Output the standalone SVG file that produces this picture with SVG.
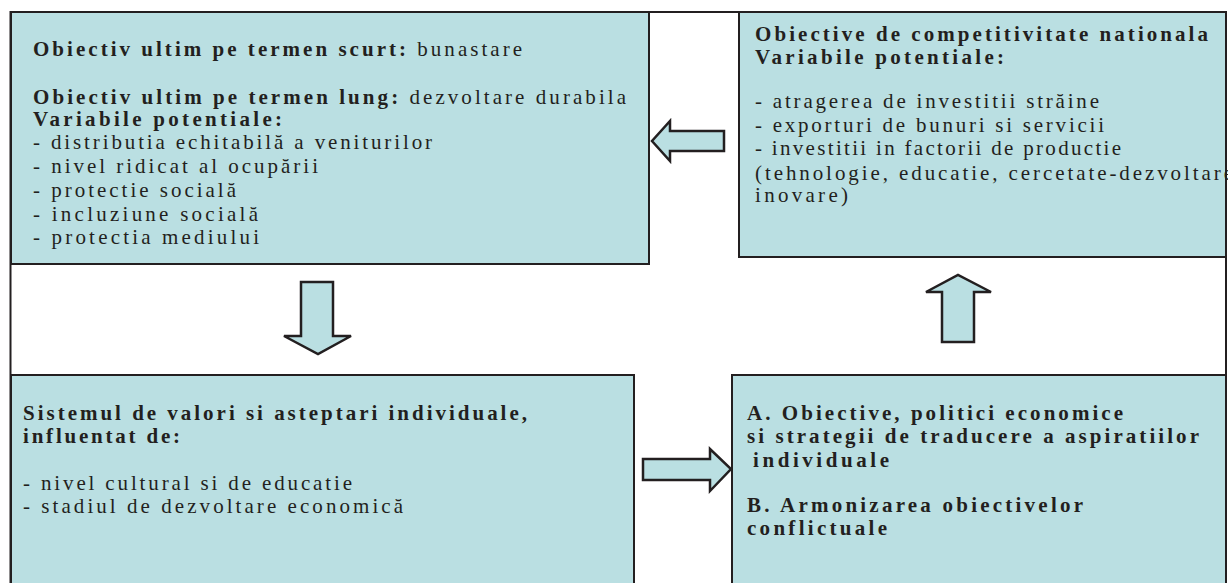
<svg xmlns="http://www.w3.org/2000/svg" width="1228" height="583" viewBox="0 0 1228 583">
<style>
.box{fill:#badfe2;stroke:#231f20;stroke-width:2}
.arr{fill:#badfe2;stroke:#231f20;stroke-width:2.5;stroke-linejoin:miter}
.frame{fill:none;stroke:#231f20;stroke-width:2}
text{font-family:"Liberation Serif","Times New Roman",serif;font-size:21px;fill:#231f20}
.b{font-weight:bold}
</style>
<rect x="0" y="0" width="1228" height="583" fill="#ffffff"/>
<g id="node-tl">
<rect class="box" x="11" y="12" width="638" height="252"/>
<text x="33" y="56" textLength="489" lengthAdjust="spacing"><tspan class="b">Obiectiv ultim pe termen scurt:</tspan> bunastare</text>
<text x="33" y="104" textLength="593" lengthAdjust="spacing"><tspan class="b">Obiectiv ultim pe termen lung:</tspan> dezvoltare durabila</text>
<text class="b" x="33" y="126" textLength="249" lengthAdjust="spacing">Variabile potentiale:</text>
<text x="33" y="149" textLength="399" lengthAdjust="spacing">- distributia echitabilă a veniturilor</text>
<text x="33" y="173" textLength="285" lengthAdjust="spacing">- nivel ridicat al ocupării</text>
<text x="33" y="197" textLength="203" lengthAdjust="spacing">- protectie socială</text>
<text x="33" y="221" textLength="225" lengthAdjust="spacing">- incluziune socială</text>
<text x="33" y="244" textLength="226" lengthAdjust="spacing">- protectia mediului</text>
</g>
<g id="node-tr">
<rect class="box" x="739" y="12" width="487" height="245"/>
<text class="b" x="755" y="41" textLength="453" lengthAdjust="spacing">Obiective de competitivitate nationala</text>
<text class="b" x="755" y="64" textLength="249" lengthAdjust="spacing">Variabile potentiale:</text>
<text x="755" y="108" textLength="344" lengthAdjust="spacing">- atragerea de investitii străine</text>
<text x="755" y="132" textLength="349" lengthAdjust="spacing">- exporturi de bunuri si servicii</text>
<text x="755" y="155" textLength="366" lengthAdjust="spacing">- investitii in factorii de productie</text>
<text x="755" y="180" textLength="478" lengthAdjust="spacing">(tehnologie, educatie, cercetate-dezvoltare</text>
<text x="755" y="202" textLength="93" lengthAdjust="spacing">inovare)</text>
</g>
<g id="node-bl">
<rect class="box" x="11" y="375" width="623" height="220"/>
<text class="b" x="23" y="420" textLength="504" lengthAdjust="spacing">Sistemul de valori si asteptari individuale,</text>
<text class="b" x="23" y="443" textLength="157" lengthAdjust="spacing">influentat de:</text>
<text x="23" y="490" textLength="329" lengthAdjust="spacing">- nivel cultural si de educatie</text>
<text x="23" y="513" textLength="380" lengthAdjust="spacing">- stadiul de dezvoltare economică</text>
</g>
<g id="node-br">
<rect class="box" x="732" y="375" width="494" height="220"/>
<text class="b" x="747" y="420" textLength="376" lengthAdjust="spacing">A. Obiective, politici economice</text>
<text class="b" x="747" y="443" textLength="452" lengthAdjust="spacing">si strategii de traducere a aspiratiilor</text>
<text class="b" x="753" y="467" textLength="136" lengthAdjust="spacing">individuale</text>
<text class="b" x="747" y="512" textLength="336" lengthAdjust="spacing">B. Armonizarea obiectivelor</text>
<text class="b" x="747" y="535" textLength="140" lengthAdjust="spacing">conflictuale</text>
</g>
<g id="connectors">
<polygon class="arr" points="724,131 670,131 670,121 652,141 670,161 670,151 724,151"/>
<polygon class="arr" points="301,282 333,282 333,336 351,336 318,354 284,336 301,336"/>
<polygon class="arr" points="942,342 942,292 926,292 958,275 991,292 974,292 974,342"/>
<polygon class="arr" points="643,459 710,459 710,449 731,469 710,491 710,480 643,480"/>
</g>
<g id="frame">
<rect class="frame" x="10.5" y="12" width="1215.5" height="600"/>
</g>
</svg>
